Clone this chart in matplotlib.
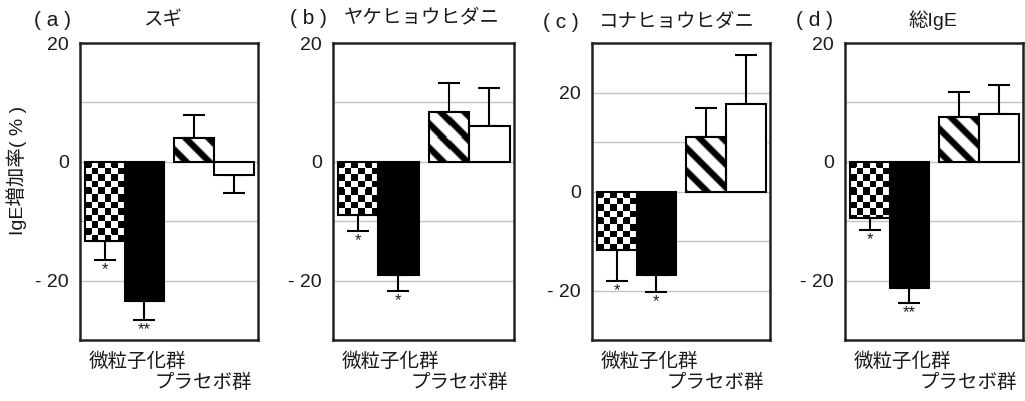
import numpy as np
import matplotlib
matplotlib.use('Agg')
import matplotlib.pyplot as plt

plt.rcParams['font.family'] = ['Liberation Sans', 'Noto Sans CJK JP']

# 見出し
tags = ['( a )', '( b )', '( c )', '( d )']
titles = ['スギ', 'ヤケヒョウヒダニ', 'コナヒョウヒダニ', '総IgE']
group_labels = ['微粒子化群', 'プラセボ群']
ylabel = 'IgE増加率( % )'

# 棒の並び: 微粒子化群(市松, 黒) / プラセボ群(斜線, 白)
vals_a = [-13.3, -23.5, 4.0, -2.3]
err_a = [3.2, 3.2, 3.8, 3.0]
stars_a = ['*', '**', '', '']

vals_b = [-9.0, -19.0, 8.3, 6.0]
err_b = [2.6, 2.8, 5.0, 6.5]
stars_b = ['*', '*', '', '']

vals_c = [-11.9, -16.8, 11.1, 17.6]
err_c = [6.1, 3.6, 5.8, 9.9]
stars_c = ['*', '*', '', '']

vals_d = [-9.5, -21.2, 7.5, 8.1]
err_d = [2.0, 2.6, 4.2, 4.8]
stars_d = ['*', '**', '', '']

ylims = [(-30, 20), (-30, 20), (-30, 30), (-30, 20)]
yticks = [-20, 0, 20]

panels = [(vals_a, err_a, stars_a), (vals_b, err_b, stars_b),
          (vals_c, err_c, stars_c), (vals_d, err_d, stars_d)]

W, H = 1025, 401
axes_px = [(80, 258), (333, 514), (592, 770), (845, 1023)]
top_px, bottom_px = 43, 340
tag_px = [(53, 20), (308, 18), (561, 22), (814, 20)]
title_px = [(163, 20), (422, 18), (677, 22), (933, 20)]

xpos = [0, 1, 2.25, 3.25]
fills = ['checker', 'black', 'stripe', 'white']
txt = '#1a1a1a'


def fx(x):
    return x / W


def fy(y):
    return 1 - y / H


def pattern(kind, nx, ny):
    j, i = np.meshgrid(np.arange(nx) + 0.5, np.arange(ny) + 0.5)
    if kind == 'checker':
        cell = 6.6
        cj, ci = np.floor(j / cell), np.floor(i / cell)
        # 角の丸い黒ます
        dj = np.abs(j / cell - cj - 0.5)
        di = np.abs(i / cell - ci - 0.5)
        blob = (dj ** 3 + di ** 3) < 0.22
        dark = ((cj + ci) % 2 == 0) & blob
        return np.where(dark, 0.0, 1.0)
    # 右下がりの太い斜線
    period, half = 23.0, 4.5
    d = np.abs(((j - i) % period) - period / 2)
    return np.clip((d - half) / 2.5 + 0.5, 0, 1)


def fill_bar(ax, bar, kind):
    x0, w = bar.get_x(), bar.get_width()
    y0, y1 = sorted([bar.get_y(), bar.get_y() + bar.get_height()])
    (px0, py0), (px1, py1) = ax.transData.transform([(x0, y0), (x0 + w, y1)])
    nx, ny = max(int(round(px1 - px0)), 1), max(int(round(py1 - py0)), 1)
    img = pattern(kind, nx, ny)
    im = ax.imshow(img, extent=(x0, x0 + w, y0, y1), origin='upper',
                   cmap='gray', vmin=0, vmax=1, aspect='auto',
                   interpolation='nearest', zorder=2.5)
    im.set_clip_path(bar)


fig = plt.figure(figsize=(W / 100, H / 100), dpi=100)

for k, (vals, errs, stars) in enumerate(panels):
    l, r = axes_px[k]
    ax = fig.add_axes([fx(l), fy(bottom_px), (r - l) / W, (bottom_px - top_px) / H])
    ax.set_xlim(-0.62, 3.86)
    ax.set_ylim(*ylims[k])

    lo = [e if v < 0 else 0 for v, e in zip(vals, errs)]
    hi = [e if v >= 0 else 0 for v, e in zip(vals, errs)]
    ax.errorbar(xpos, vals, yerr=[lo, hi], fmt='none', ecolor='black',
                elinewidth=1.5, capsize=8, capthick=1.5, zorder=1.5)

    colors = ['white' if f != 'black' else 'black' for f in fills]
    bars = ax.bar(xpos, vals, width=1.0, color=colors, edgecolor='none', zorder=2)
    for b, f in zip(bars, fills):
        if f in ('checker', 'stripe'):
            fill_bar(ax, b, f)
    ax.bar(xpos, vals, width=1.0, fill=False, edgecolor='black', linewidth=1.5, zorder=3)
    ax.set_xlim(-0.62, 3.86)
    ax.set_ylim(*ylims[k])

    for x, v, e, s in zip(xpos, vals, errs, stars):
        if s:
            ax.annotate(s, xy=(x, v - e), xytext=(0, -1.5), textcoords='offset points',
                        ha='center', va='top', fontsize=12, color=txt)

    lo_y, hi_y = ylims[k]
    ax.set_yticks(np.arange(lo_y + 10, hi_y, 10), minor=True)
    ax.set_yticks(yticks)
    ax.set_yticklabels([f'- {abs(t)}' if t < 0 else f'{t}' for t in yticks])
    ax.set_xticks([])
    ax.grid(axis='y', which='both', color='#c4c4c4', linewidth=1.0, zorder=0)
    ax.set_axisbelow(True)
    ax.tick_params(axis='y', which='both', length=0, pad=8, labelsize=14, labelcolor=txt)
    for sp in ax.spines.values():
        sp.set_linewidth(1.8)
        sp.set_color('#222222')

    fig.text(fx(tag_px[k][0]), fy(tag_px[k][1]), tags[k], ha='center', va='center',
             fontsize=15, color=txt)
    fig.text(fx(title_px[k][0]), fy(title_px[k][1]), titles[k], ha='center', va='center',
             fontsize=14, color=txt)
    fig.text(fx(l + 9), fy(362), group_labels[0], ha='left', va='center',
             fontsize=14, color=txt)
    fig.text(fx(r - 6), fy(383), group_labels[1], ha='right', va='center',
             fontsize=14, color=txt)

fig.text(fx(17), fy(170), ylabel, rotation=90, ha='center', va='center',
         fontsize=14, color=txt)

fig.savefig('out.png', dpi=100)
